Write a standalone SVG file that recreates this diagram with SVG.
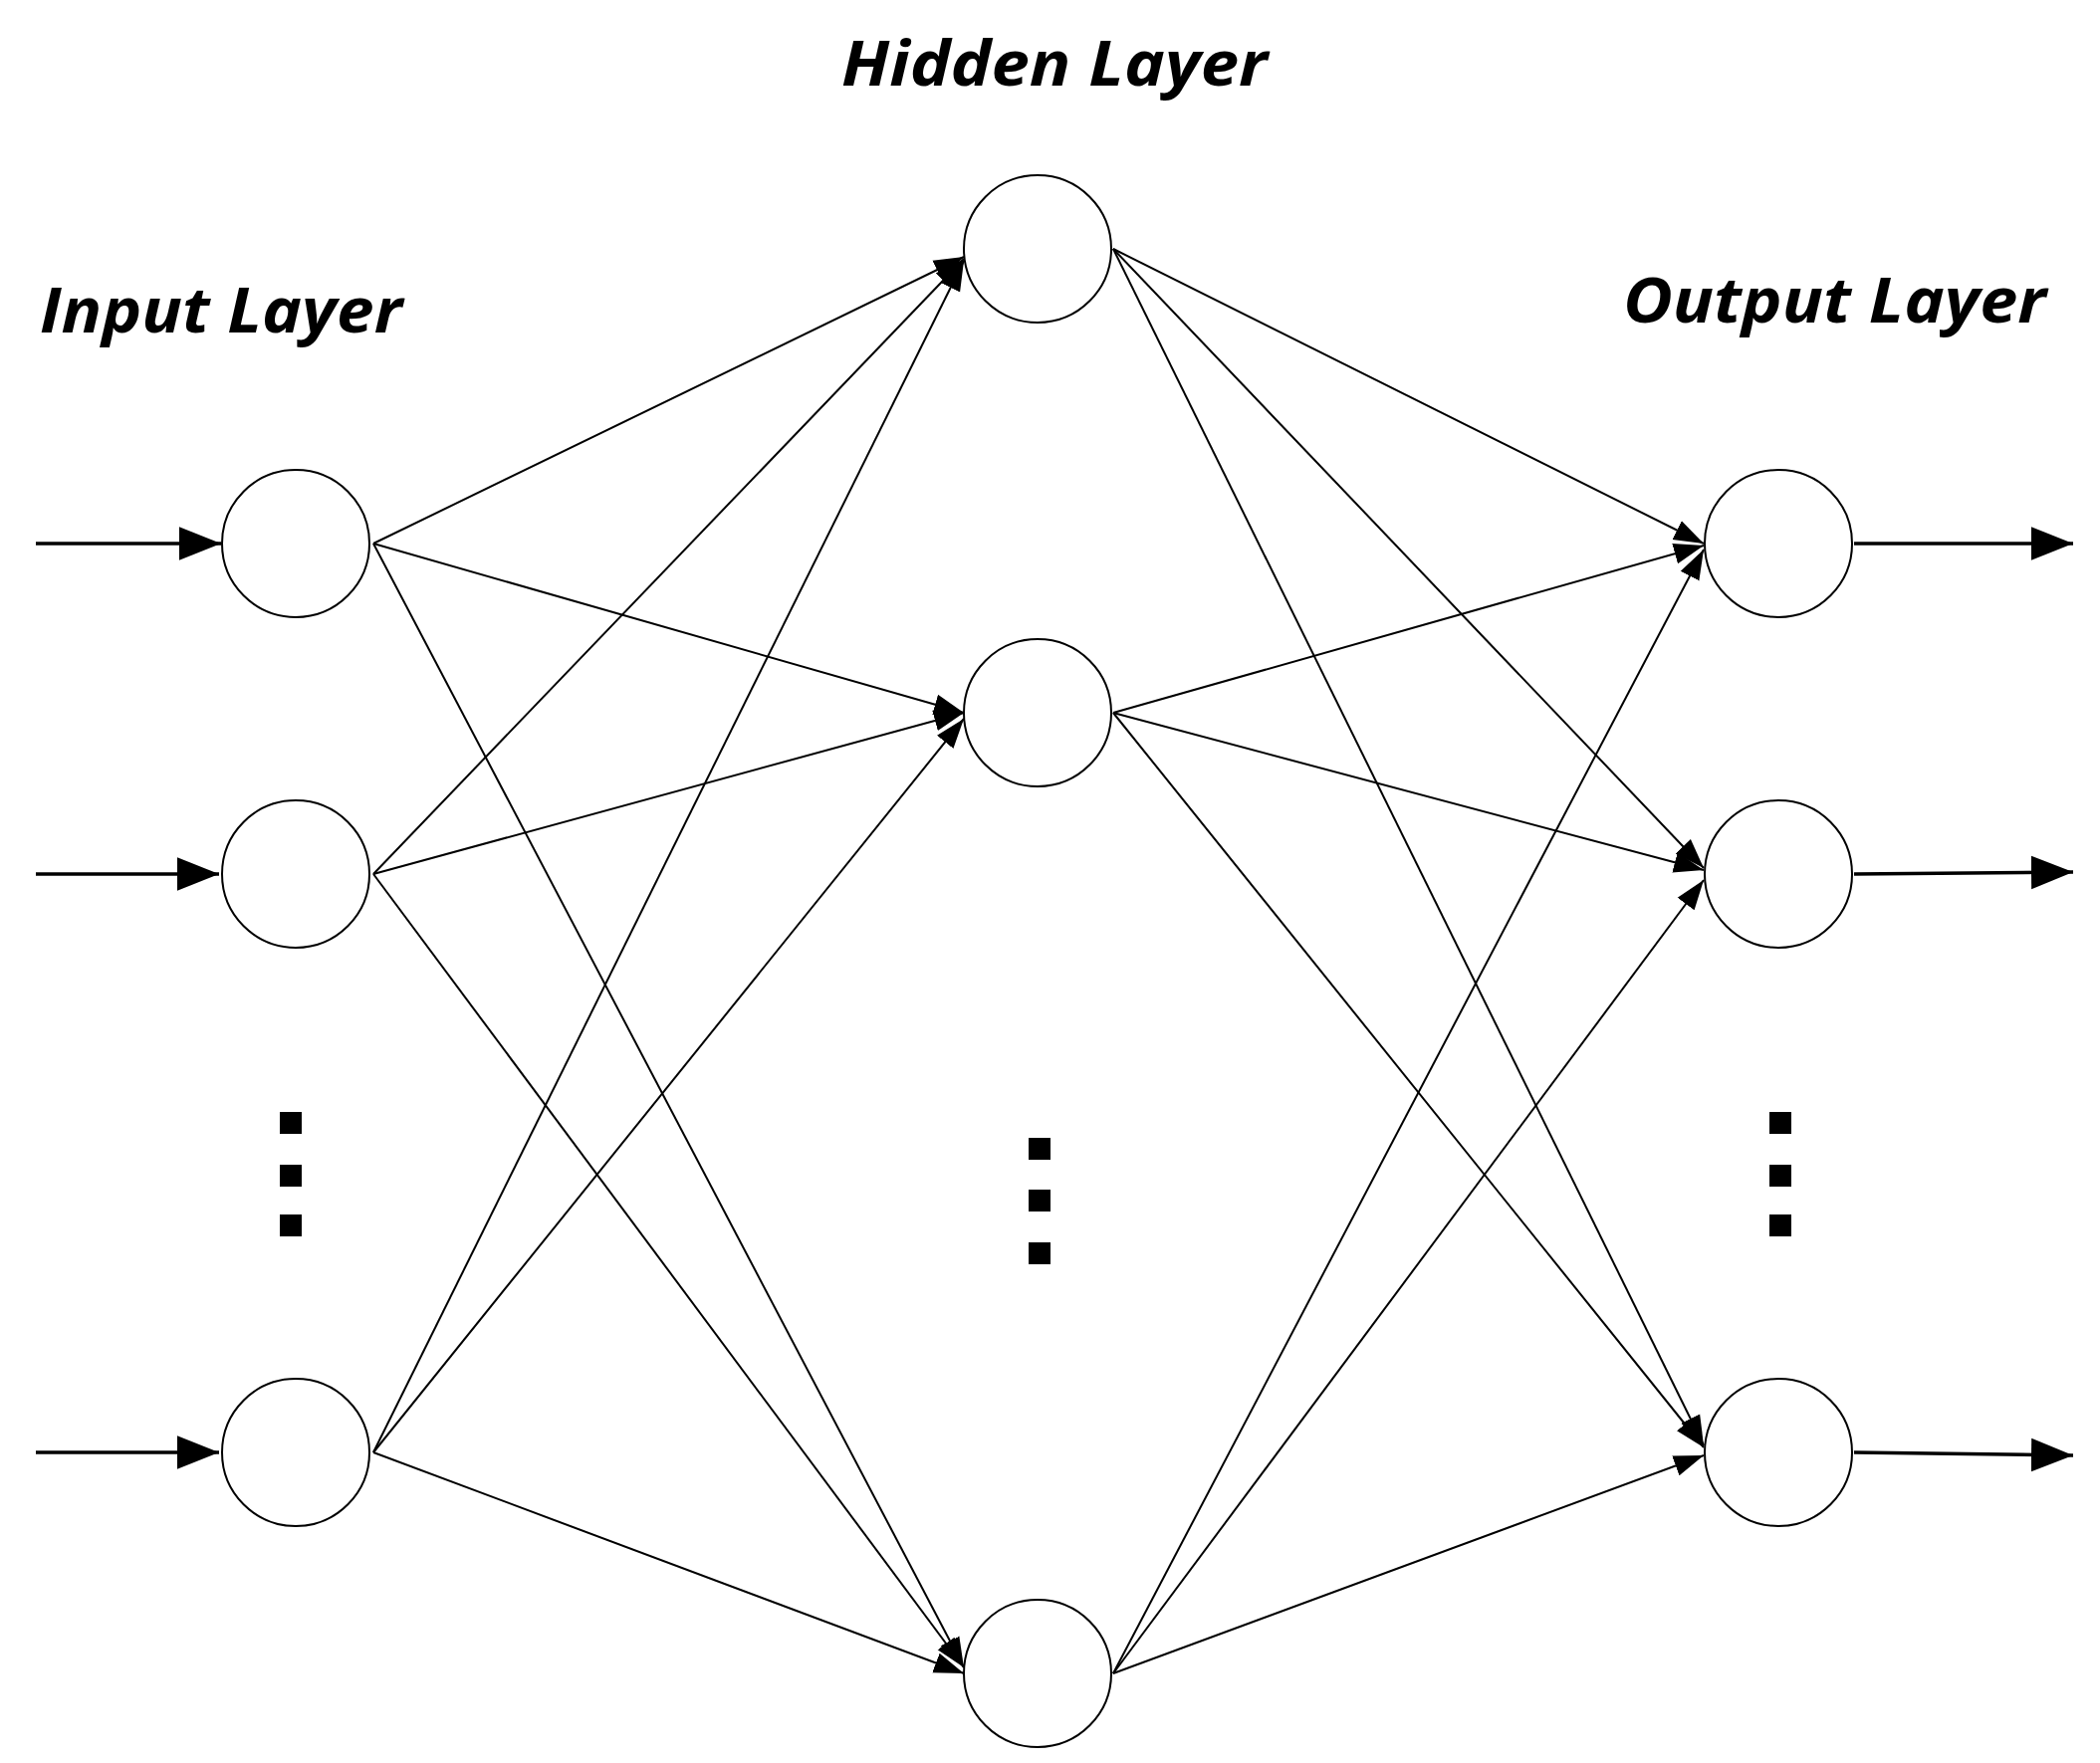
<svg xmlns="http://www.w3.org/2000/svg" width="2109" height="1771" viewBox="0 0 2109 1771">
<style>
.n{fill:#fff;stroke:#000;stroke-width:2}
.c line{stroke:#000;stroke-width:2;marker-end:url(#a)}
.c line.io{stroke-width:3.5;marker-end:url(#b)}
.t{font-family:"Open Sans","Liberation Sans",sans-serif;font-weight:bold;font-style:italic;font-size:62px;fill:#000}
.d{fill:#000}
</style>
<defs>
<marker id="a" viewBox="0 0 10 10" refX="10" refY="5" markerWidth="30" markerHeight="30" markerUnits="userSpaceOnUse" orient="auto"><path d="M0,1.5 L10,5 L0,8.5 z"/></marker>
<marker id="b" viewBox="0 0 10 10" refX="10" refY="5" markerWidth="12" markerHeight="12" orient="auto"><path d="M0,1 L10,5 L0,9 z"/></marker>
</defs>
<rect width="2109" height="1771" fill="#fff"/>
<g class="c" id="connectors">
<line class="io" x1="36" y1="546" x2="222" y2="546"/>
<line class="io" x1="36" y1="878" x2="220" y2="878"/>
<line class="io" x1="36" y1="1459" x2="220" y2="1459"/>
<line class="io" x1="1862" y1="546" x2="2082" y2="546"/>
<line class="io" x1="1862" y1="878" x2="2082" y2="876"/>
<line class="io" x1="1862" y1="1459" x2="2082" y2="1462"/>
<line x1="375" y1="546" x2="968" y2="258"/>
<line x1="375" y1="546" x2="968" y2="716"/>
<line x1="375" y1="546" x2="968" y2="1675"/>
<line x1="375" y1="878" x2="968" y2="260"/>
<line x1="375" y1="878" x2="968" y2="716"/>
<line x1="375" y1="878" x2="968" y2="1675"/>
<line x1="375" y1="1459" x2="968" y2="262"/>
<line x1="375" y1="1459" x2="968" y2="722"/>
<line x1="375" y1="1459" x2="968" y2="1681"/>
<line x1="1118" y1="250" x2="1711" y2="546"/>
<line x1="1118" y1="250" x2="1711" y2="872"/>
<line x1="1118" y1="250" x2="1711" y2="1452"/>
<line x1="1118" y1="716" x2="1711" y2="548"/>
<line x1="1118" y1="716" x2="1711" y2="874"/>
<line x1="1118" y1="716" x2="1711" y2="1454"/>
<line x1="1118" y1="1681" x2="1711" y2="552"/>
<line x1="1118" y1="1681" x2="1711" y2="884"/>
<line x1="1118" y1="1681" x2="1711" y2="1462"/>
</g>
<g id="in1"><circle class="n" cx="297" cy="546" r="74"/></g>
<g id="in2"><circle class="n" cx="297" cy="878" r="74"/></g>
<g id="in3"><circle class="n" cx="297" cy="1459" r="74"/></g>
<g id="h1"><circle class="n" cx="1042" cy="250" r="74"/></g>
<g id="h2"><circle class="n" cx="1042" cy="716" r="74"/></g>
<g id="h3"><circle class="n" cx="1042" cy="1681" r="74"/></g>
<g id="o1"><circle class="n" cx="1786" cy="546" r="74"/></g>
<g id="o2"><circle class="n" cx="1786" cy="878" r="74"/></g>
<g id="o3"><circle class="n" cx="1786" cy="1459" r="74"/></g>
<g id="dots" class="d">
<rect x="281" y="1117" width="22" height="22"/><rect x="281" y="1170" width="22" height="22"/><rect x="281" y="1220" width="22" height="22"/>
<rect x="1033" y="1143" width="22" height="22"/><rect x="1033" y="1195" width="22" height="22"/><rect x="1033" y="1248" width="22" height="22"/>
<rect x="1777" y="1117" width="22" height="22"/><rect x="1777" y="1170" width="22" height="22"/><rect x="1777" y="1220" width="22" height="22"/>
</g>
<g id="labels">
<text class="t" x="845" y="86" textLength="428" lengthAdjust="spacingAndGlyphs">Hidden Layer</text>
<text class="t" x="40" y="334" textLength="364" lengthAdjust="spacingAndGlyphs">Input Layer</text>
<text class="t" x="1630" y="324" textLength="425" lengthAdjust="spacingAndGlyphs">Output Layer</text>
</g>
</svg>
